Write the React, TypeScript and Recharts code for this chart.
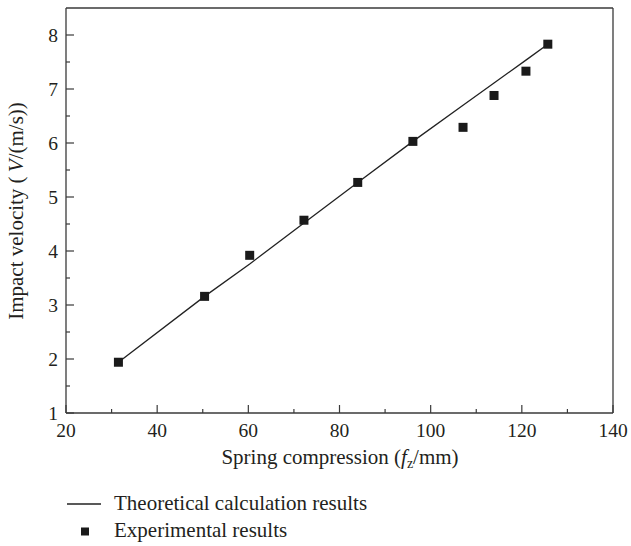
import React from "react";
import { ComposedChart, XAxis, YAxis, Line, Scatter, Legend } from "recharts";

const compression = [31.5, 50.4, 60.3, 72.2, 84.0, 96.1, 107.1, 113.9, 120.9, 125.7];
const experimental = [1.94, 3.16, 3.92, 4.57, 5.27, 6.03, 6.29, 6.88, 7.33, 7.83];
const theoretical = [1.94, 3.16, 3.76, 4.52, 5.27, 6.03, 6.70, 7.11, 7.535, 7.83];

const xTicks = [20, 30, 40, 50, 60, 70, 80, 90, 100, 110, 120, 130, 140];
const xLabels = [20, 40, 60, 80, 100, 120, 140];
const yTicks = [1, 1.5, 2, 2.5, 3, 3.5, 4, 4.5, 5, 5.5, 6, 6.5, 7, 7.5, 8];
const yLabels = [1, 2, 3, 4, 5, 6, 7, 8];

const data = compression.map((x, i) => ({ x, v: experimental[i], t: theoretical[i] }));

const FONT = "'Liberation Serif', 'Times New Roman', serif";
const TEXT = "#231f20";
const AXIS = "#3a3a3a";

const XTick = (props: any) => {
  const { x, y, payload } = props;
  const major = xLabels.includes(payload.value);
  return (
    <g>
      <line x1={x} y1={y} x2={x} y2={y - (major ? 8 : 4)} stroke={AXIS} strokeWidth={1.2} />
      {major && (
        <text x={x} y={y + 24} textAnchor="middle" fontFamily={FONT} fontSize={19.5} fill={TEXT}>
          {payload.value}
        </text>
      )}
    </g>
  );
};

const YTick = (props: any) => {
  const { x, y, payload } = props;
  const major = yLabels.includes(payload.value);
  return (
    <g>
      <line x1={x} y1={y} x2={x + (major ? 8 : 4)} y2={y} stroke={AXIS} strokeWidth={1.2} />
      {major && (
        <text x={x - 8} y={y + 6.5} textAnchor="end" fontFamily={FONT} fontSize={19.5} fill={TEXT}>
          {payload.value}
        </text>
      )}
    </g>
  );
};

const Square = (props: any) => {
  const { cx, cy } = props;
  return <rect x={cx - 4.5} y={cy - 4.5} width={9} height={9} fill="#1a1a1a" />;
};

const LegendContent = () => (
  <svg width={631} height={546} style={{ position: "absolute", left: 0, top: 0, overflow: "visible" }}>
    <line x1={67} y1={504} x2={101} y2={504} stroke="#222" strokeWidth={1.3} />
    <text x={114} y={510} fontFamily={FONT} fontSize={21} fill={TEXT}>
      Theoretical calculation results
    </text>
    <rect x={81} y={527.5} width={8} height={8} fill="#1a1a1a" />
    <text x={114} y={537} fontFamily={FONT} fontSize={21} fill={TEXT}>
      Experimental results
    </text>
  </svg>
);

export default function App() {
  return (
    <div style={{ position: "absolute", left: 0, top: 0, width: 631, height: 546, background: "#fff" }}>
      <ComposedChart width={631} height={546} data={data} margin={{ top: 7, right: 17, bottom: 132, left: 65 }}>
        <XAxis
          type="number"
          dataKey="x"
          domain={[20, 140]}
          ticks={xTicks}
          interval={0}
          tick={<XTick />}
          tickLine={false}
          tickSize={0}
          tickMargin={0}
          height={1}
          axisLine={{ stroke: AXIS, strokeWidth: 1.3 }}
          allowDataOverflow
          label={{
            content: () => (
              <text x={340} y={464} textAnchor="middle" fontFamily={FONT} fontSize={21} fill={TEXT}>
                Spring compression (<tspan fontStyle="italic">f</tspan>
                <tspan fontSize={14} dy={4}>z</tspan>
                <tspan dy={-4}>/mm)</tspan>
              </text>
            ),
          }}
        />
        <XAxis
          xAxisId="top"
          orientation="top"
          type="number"
          domain={[20, 140]}
          tick={false}
          tickLine={false}
          height={1}
          axisLine={{ stroke: AXIS, strokeWidth: 1.3 }}
        />
        <YAxis
          type="number"
          dataKey="v"
          domain={[1, 8.5]}
          ticks={yTicks}
          interval={0}
          tick={<YTick />}
          tickLine={false}
          tickSize={0}
          tickMargin={0}
          width={1}
          axisLine={{ stroke: AXIS, strokeWidth: 1.3 }}
          allowDataOverflow
          label={{
            content: () => (
              <text
                x={23}
                y={211}
                transform="rotate(-90, 23, 211)"
                textAnchor="middle"
                fontFamily={FONT}
                fontSize={21}
                fill={TEXT}
              >
                Impact velocity ({"\u2009"}<tspan fontStyle="italic">V</tspan>/(m/s))
              </text>
            ),
          }}
        />
        <YAxis
          yAxisId="right"
          orientation="right"
          type="number"
          domain={[1, 8.5]}
          tick={false}
          tickLine={false}
          width={1}
          axisLine={{ stroke: AXIS, strokeWidth: 1.3 }}
        />
        <Line
          dataKey="t"
          type="linear"
          stroke="#222"
          strokeWidth={1.3}
          dot={false}
          activeDot={false}
          isAnimationActive={false}
          legendType="line"
          name="Theoretical calculation results"
        />
        <Scatter
          dataKey="v"
          shape={<Square />}
          isAnimationActive={false}
          legendType="square"
          name="Experimental results"
        />
        <Legend
          layout="vertical"
          align="center"
          verticalAlign="middle"
          content={<LegendContent />}
          wrapperStyle={{ position: "absolute", left: 0, top: 0, width: 631, height: 546, pointerEvents: "none" }}
        />
      </ComposedChart>
    </div>
  );
}
